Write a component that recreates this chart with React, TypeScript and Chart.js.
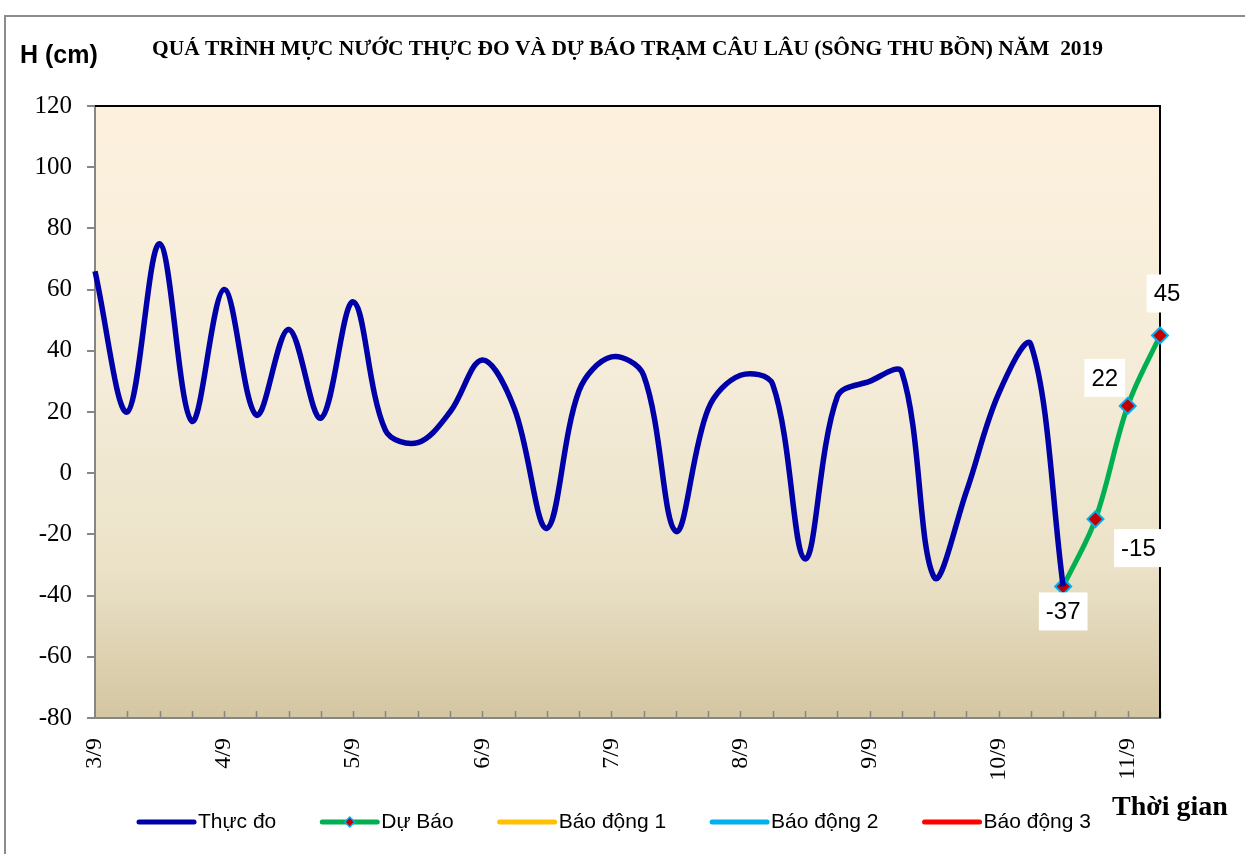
import React, { useEffect, useRef } from 'react';
import { Chart, registerables } from 'chart.js';

Chart.register(...registerables);

// ---- data ----
const dayLabels = ['3/9', '4/9', '5/9', '6/9', '7/9', '8/9', '9/9', '10/9', '11/9'];
const hours = ['00h', '06h', '12h', '18h'];
const categories: string[] = [];
for (let i = 0; i < 34; i++) {
  categories.push(dayLabels[Math.floor(i / 4)] + ' ' + hours[i % 4]);
}
const observed: (number | null)[] = [
  66, 20, 75, 17, 60, 19, 47, 18, 56, 14,
  10, 20, 37, 21, -18, 27, 38, 32, -19, 21,
  32, 29, -28, 25, 30, 33, -34, -6, 26, 42,
  -37,
];
const forecastStart = 30;
const forecastValues = [-37, -15, 22, 45];
const forecast: (number | null)[] = categories.map((_, i) =>
  i >= forecastStart ? forecastValues[i - forecastStart] : null
);
const yTicks = { min: -80, max: 120, step: 20 };
const titleText = 'QUÁ TRÌNH MỰC NƯỚC THỰC ĐO VÀ DỰ BÁO TRẠM CÂU LÂU (SÔNG THU BỒN) NĂM  2019';
const yTitle = 'H (cm)';
const xTitle = 'Thời gian';
const legendItems = [
  { text: 'Thực đo', color: '#0000a8', marker: false },
  { text: 'Dự Báo', color: '#00b050', marker: true },
  { text: 'Báo động 1', color: '#ffc000', marker: false },
  { text: 'Báo động 2', color: '#00b0f0', marker: false },
  { text: 'Báo động 3', color: '#ff0000', marker: false },
];

// label offsets (style) for forecast data labels
const labelOffsets = [
  [0, 25],
  [43, 29],
  [-23, -28],
  [7, -42],
];

const decorPlugin = {
  id: 'decor',
  beforeDraw(chart: any) {
    const { ctx, chartArea: a } = chart;
    ctx.save();
    ctx.fillStyle = '#ffffff';
    ctx.fillRect(0, 0, chart.width, chart.height);
    // outer border
    ctx.strokeStyle = '#8c8c8c';
    ctx.lineWidth = 2;
    ctx.strokeRect(5, 16, chart.width + 20, chart.height + 20);
    // plot background gradient
    const g = ctx.createLinearGradient(0, a.top, 0, a.bottom);
    g.addColorStop(0, '#fdf1de');
    g.addColorStop(0.45, '#f4ecd8');
    g.addColorStop(0.75, '#ebe2c8');
    g.addColorStop(1, '#d4c6a2');
    ctx.fillStyle = g;
    ctx.fillRect(a.left, a.top, a.right - a.left, a.bottom - a.top);

    // title
    ctx.fillStyle = '#000';
    ctx.font = 'bold 20px "Liberation Serif"';
    ctx.textBaseline = 'alphabetic';
    ctx.textAlign = 'left';
    const tw = ctx.measureText(titleText).width;
    const target = 951;
    ctx.save();
    ctx.translate(152, 55);
    ctx.scale(target / tw, 1);
    ctx.fillText(titleText, 0, 0);
    ctx.restore();

    // y title
    ctx.font = 'bold 25px "Liberation Sans"';
    ctx.textAlign = 'left';
    ctx.textBaseline = 'middle';
    ctx.fillText(yTitle, 20, 56);

    // x title
    ctx.font = 'bold 28px "Liberation Serif"';
    ctx.textAlign = 'left';
    ctx.fillText(xTitle, 1112, 808);

    // legend
    ctx.font = '21px "Liberation Sans"';
    ctx.textBaseline = 'middle';
    let x = 139;
    const ly = 822;
    for (const it of legendItems) {
      ctx.strokeStyle = it.color;
      ctx.lineWidth = 5;
      ctx.lineCap = 'round';
      ctx.beginPath();
      ctx.moveTo(x, ly);
      ctx.lineTo(x + 55, ly);
      ctx.stroke();
      if (it.marker) {
        const cx = x + 27.5;
        ctx.beginPath();
        ctx.moveTo(cx, ly - 5);
        ctx.lineTo(cx + 5, ly);
        ctx.lineTo(cx, ly + 5);
        ctx.lineTo(cx - 5, ly);
        ctx.closePath();
        ctx.fillStyle = '#c00000';
        ctx.fill();
        ctx.strokeStyle = '#00b0f0';
        ctx.lineWidth = 1.5;
        ctx.stroke();
      }
      ctx.fillStyle = '#000';
      ctx.fillText(it.text, x + 59, ly);
      x += 59 + ctx.measureText(it.text).width + 46;
    }
    ctx.restore();
  },
  beforeDatasetsDraw(chart: any) {
    const { ctx, chartArea: a, scales } = chart;
    ctx.save();
    // inner x tick marks
    ctx.strokeStyle = '#868686';
    ctx.lineWidth = 1.5;
    for (let i = 1; i < categories.length; i++) {
      const px = Math.round(scales.x.getPixelForValue(i)) + 0.5;
      ctx.beginPath();
      ctx.moveTo(px, a.bottom);
      ctx.lineTo(px, a.bottom - 7);
      ctx.stroke();
    }
    // top and right frame
    ctx.strokeStyle = '#000';
    ctx.lineWidth = 2;
    ctx.beginPath();
    ctx.moveTo(a.left, a.top);
    ctx.lineTo(a.right, a.top);
    ctx.lineTo(a.right, a.bottom);
    ctx.stroke();
    ctx.restore();
  },
  afterDatasetsDraw(chart: any) {
    const { ctx, scales } = chart;
    ctx.save();
    ctx.font = '24px "Liberation Sans"';
    ctx.textAlign = 'center';
    ctx.textBaseline = 'middle';
    forecastValues.forEach((v, k) => {
      const px = scales.x.getPixelForValue(forecastStart + k);
      const py = scales.y.getPixelForValue(v);
      const cx = px + labelOffsets[k][0];
      const cy = py + labelOffsets[k][1];
      const txt = String(v);
      const w = ctx.measureText(txt).width + 14;
      const h = 38;
      ctx.fillStyle = '#ffffff';
      ctx.fillRect(cx - w / 2, cy - h / 2, w, h);
      ctx.fillStyle = '#000';
      ctx.fillText(txt, cx, cy + 1);
    });
    ctx.restore();
  },
};

export default function App() {
  const ref = useRef<HTMLCanvasElement | null>(null);
  useEffect(() => {
    if (!ref.current) return;
    const chart = new Chart(ref.current, {
      type: 'line',
      data: {
        labels: categories,
        datasets: [
          {
            label: 'Thực đo',
            data: observed,
            borderColor: '#0000a8',
            borderWidth: 5.5,
            pointRadius: 0,
            tension: 0.35,
            fill: false,
            clip: false as any,
          },
          {
            label: 'Dự Báo',
            data: forecast,
            borderColor: '#00b050',
            borderWidth: 5,
            pointStyle: 'rectRot',
            pointRadius: 8,
            pointBackgroundColor: '#c00000',
            pointBorderColor: '#00b0f0',
            pointBorderWidth: 2,
            tension: 0.35,
            fill: false,
            clip: false as any,
          },
        ],
      },
      options: {
        responsive: false,
        animation: false,
        events: [],
        layout: { padding: { left: 0, right: 85, top: 106, bottom: 0 } },
        plugins: {
          legend: { display: false },
          tooltip: { enabled: false },
          title: { display: false },
        },
        scales: {
          x: {
            type: 'category',
            offset: false,
            afterFit: (s: any) => { s.height = 136; },
            grid: { display: true, drawOnChartArea: false, drawTicks: false },
            border: { display: true, color: '#868686', width: 2 },
            ticks: {
              autoSkip: false,
              maxRotation: 90,
              minRotation: 90,
              padding: 20,
              color: '#000',
              font: { family: '"Liberation Serif"', size: 24 },
              callback: (_v: any, i: number) => (i % 4 === 0 ? dayLabels[i / 4] : ''),
            },
          },
          y: {
            min: yTicks.min,
            max: yTicks.max,
            afterFit: (s: any) => { s.width = 95; },
            grid: { display: true, drawOnChartArea: false, drawTicks: true, tickLength: 8, color: '#868686', lineWidth: 2 },
            border: { display: true, color: '#868686', width: 2 },
            ticks: {
              stepSize: yTicks.step,
              padding: 15,
              color: '#000',
              font: { family: '"Liberation Serif"', size: 25 },
            },
          },
        },
      },
      plugins: [decorPlugin],
    } as any);
    return () => chart.destroy();
  }, []);
  return (
    <div style={{ position: 'absolute', left: 0, top: 0, width: 1245, height: 854 }}>
      <canvas ref={ref} width={1245} height={854} />
    </div>
  );
}
